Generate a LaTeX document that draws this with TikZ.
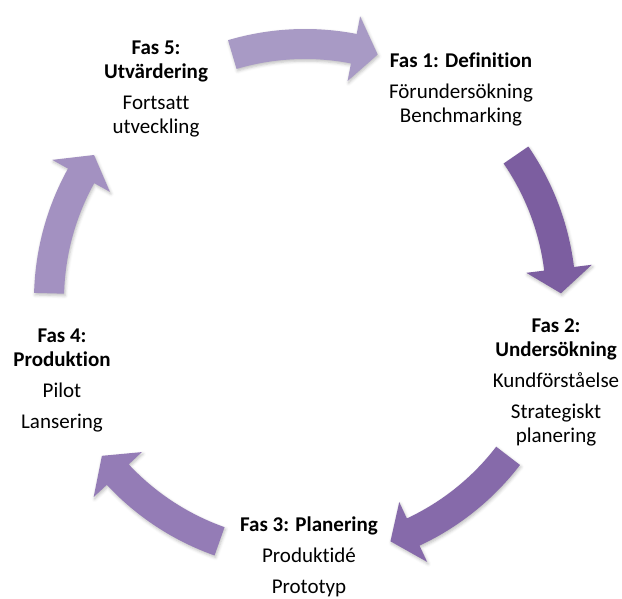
\documentclass[tikz,border=0pt]{standalone}
\usepackage{fontspec}
\setmainfont[Ligatures={NoCommon}]{Carlito}
\usepackage{tikz}
\usetikzlibrary{positioning,shadows.blur}

\definecolor{arrA}{RGB}{168,154,197}
\definecolor{arrB}{RGB}{124,94,160}
\definecolor{arrC}{RGB}{134,106,170}
\definecolor{arrD}{RGB}{148,124,182}
\definecolor{arrE}{RGB}{163,145,193}

\tikzset{
	cyclearrow/.style={fill=#1, draw=none, blur shadow={shadow xshift=1pt, shadow yshift=-2pt, shadow blur radius=3pt, shadow opacity=25}},
	fasnode/.style={align=center, inner sep=0pt, font=\fontsize{21}{24}\selectfont, text=black}
}

\begin{document}
\begin{tikzpicture}[x=1pt,y=1pt]
		\useasboundingbox (0,0) rectangle (622,598);
		\coordinate (ctr) at (305,298);
		% curved arrows between the phases
		\foreach \c/\col in {90/arrA,18/arrB,-54/arrC,-126/arrD,162/arrE} {
			\fill[cyclearrow=\col, shift={(ctr)}]
				({\c+16.5}:271) arc[start angle=\c+16.5, end angle=\c-11, radius=271]
				-- ({\c-11}:289) -- ({\c-16.5}:256) -- ({\c-11}:223) -- ({\c-11}:241)
				arc[start angle=\c-11, end angle=\c+16.5, radius=241] -- cycle;
		};
		\node[fasnode] (fas1) at (461,509) {\textbf{Fas 1: Definition}\\[7pt] Förundersökning\\ Benchmarking};
		\node[fasnode] (fas2) at (556,216) {\textbf{Fas 2:}\\ \textbf{Undersökning}\\[7pt] Kundförståelse\\[7pt] Strategiskt\\ planering};
		\node[fasnode] (fas3) at (309,41) {\textbf{Fas 3: Planering}\\[7pt] Produktidé\\[7pt] Prototyp};
		\node[fasnode] (fas4) at (62,218) {\textbf{Fas 4:}\\ \textbf{Produktion}\\[7pt] Pilot\\[7pt] Lansering};
		\node[fasnode] (fas5) at (156,509) {\textbf{Fas 5:}\\ \textbf{Utvärdering}\\[7pt] Fortsatt\\ utveckling};
\end{tikzpicture}
\end{document}
